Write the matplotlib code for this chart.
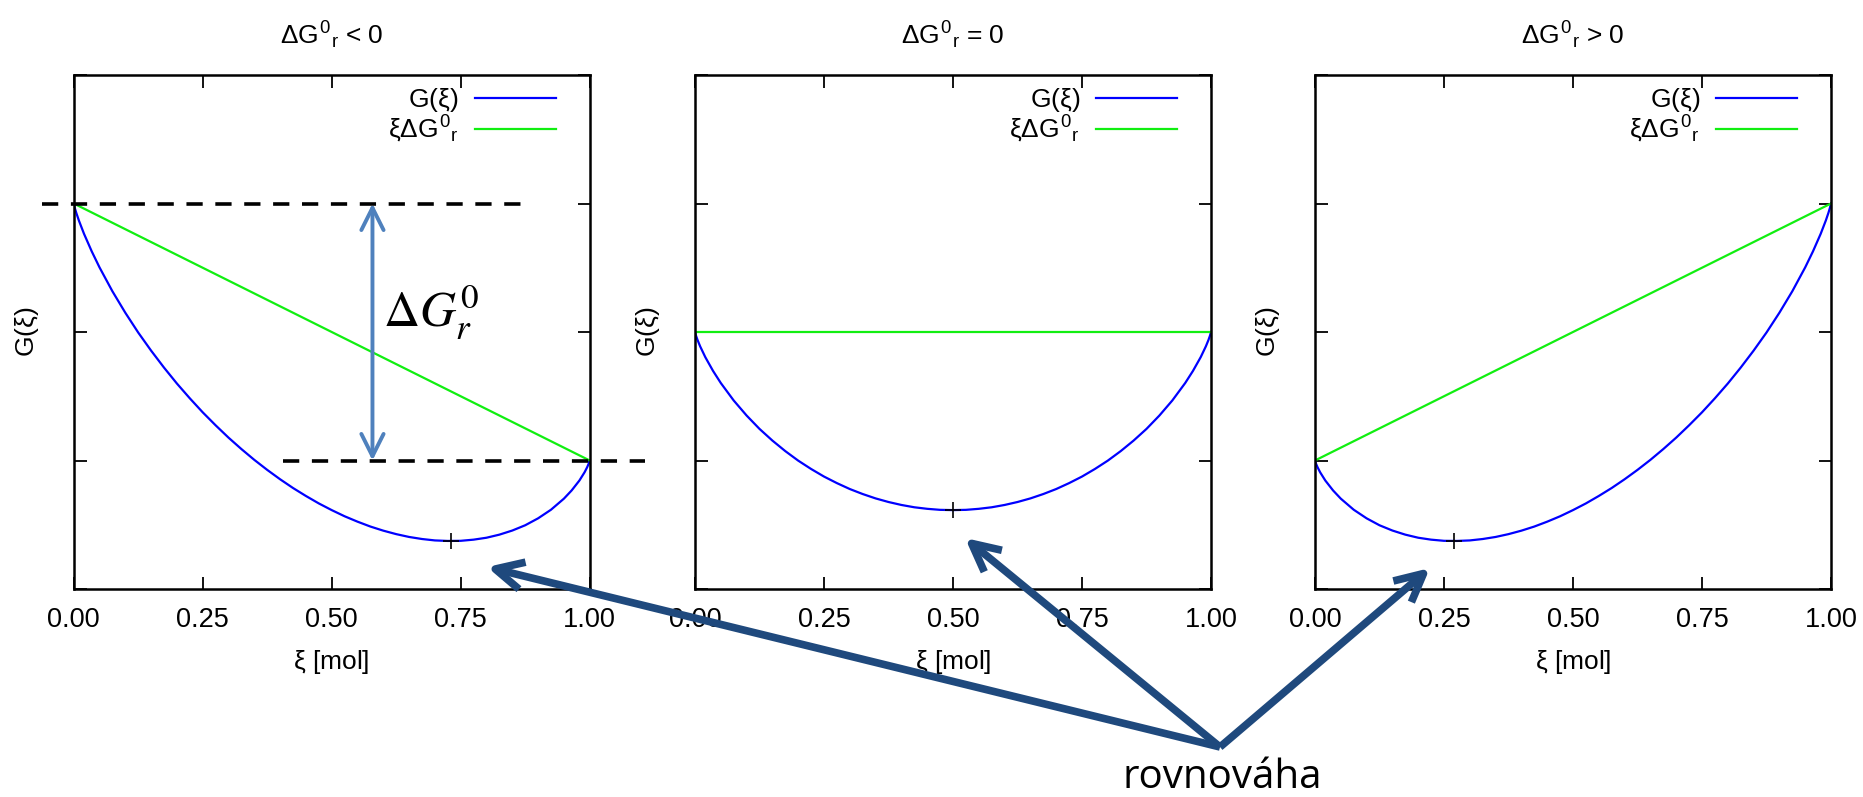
import matplotlib
matplotlib.use("Agg")
import matplotlib.pyplot as plt
from matplotlib.patches import FancyArrowPatch

plt.rcParams['font.family'] = ['Liberation Sans', 'DejaVu Sans']
plt.rcParams['mathtext.fontset'] = 'custom'
plt.rcParams['mathtext.rm'] = 'Liberation Sans'
plt.rcParams['mathtext.it'] = 'Liberation Sans'
plt.rcParams['mathtext.bf'] = 'Liberation Sans:bold'

### data (G in tick units, 0..4)
xi = [0, .002, .005, .01, .02, .035, .05, .075, .1, .125, .15, .175, .2, .225, .25, .275,
      .3, .325, .35, .375, .4, .425, .45, .475, .5, .525, .55, .575, .6, .625, .65, .675,
      .7, .725, .75, .775, .8, .825, .85, .875, .9, .925, .95, .965, .98, .99, .995, .998, 1]

g_neg = [3.000, 2.967, 2.927, 2.868, 2.764, 2.627, 2.503, 2.317, 2.150, 1.996, 1.855, 1.723,
         1.599, 1.484, 1.375, 1.274, 1.178, 1.089, 1.005, 0.927, 0.854, 0.786, 0.724, 0.666,
         0.614, 0.566, 0.524, 0.486, 0.454, 0.427, 0.405, 0.389, 0.378, 0.374, 0.375, 0.384,
         0.399, 0.423, 0.455, 0.496, 0.550, 0.617, 0.703, 0.767, 0.844, 0.908, 0.947, 0.975,
         1.000]
g_zero = [2.000, 1.971, 1.937, 1.888, 1.804, 1.697, 1.603, 1.467, 1.350, 1.246, 1.155, 1.073,
          0.999, 0.934, 0.875, 0.824, 0.778, 0.739, 0.705, 0.677, 0.654, 0.636, 0.624, 0.616,
          0.614, 0.616, 0.624, 0.636, 0.654, 0.677, 0.705, 0.739, 0.778, 0.824, 0.875, 0.934,
          0.999, 1.073, 1.155, 1.246, 1.350, 1.467, 1.603, 1.697, 1.804, 1.888, 1.937, 1.971,
          2.000]
g_pos = [1.000, 0.975, 0.947, 0.908, 0.844, 0.767, 0.703, 0.617, 0.550, 0.496, 0.455, 0.423,
         0.399, 0.384, 0.375, 0.374, 0.378, 0.389, 0.405, 0.427, 0.454, 0.486, 0.524, 0.566,
         0.614, 0.666, 0.724, 0.786, 0.854, 0.927, 1.005, 1.089, 1.178, 1.274, 1.375, 1.484,
         1.599, 1.723, 1.855, 1.996, 2.150, 2.317, 2.503, 2.627, 2.764, 2.868, 2.927, 2.967,
         3.000]

# xi*dG line: value at xi=0 and xi=1
lin_neg = [3, 1]
lin_zero = [2, 2]
lin_pos = [1, 3]

# equilibrium points (+)
eq_x = [0.731, 0.5, 0.269]
eq_y = [0.373, 0.614, 0.373]

titles = [r'$\Delta G^{0}{}_{r}$ < 0', r'$\Delta G^{0}{}_{r}$ = 0', r'$\Delta G^{0}{}_{r}$ > 0']
xtick_vals = [0, 0.25, 0.5, 0.75, 1.0]
xtick_labels = ['0.00', '0.25', '0.50', '0.75', '1.00']

blue = '#0000ff'
green = '#11ee11'

fig = plt.figure(figsize=(18.63, 7.97), dpi=100)
W, H = 1863.0, 797.0
lefts = [73.7, 695, 1315]
aw, ah = 516, 514
bottom = 797 - 589

curves = [g_neg, g_zero, g_pos]
lines = [lin_neg, lin_zero, lin_pos]
axes = []
for i in range(3):
    ax = fig.add_axes([lefts[i] / W, bottom / H, aw / W, ah / H])
    axes.append(ax)
    ax.plot(xi, curves[i], color=blue, lw=1.6, label=r'G($\xi$)')
    ax.plot([0, 1], lines[i], color=green, lw=1.6, label=r'$\xi\Delta G^{0}{}_{r}$')
    ax.plot(eq_x[i], eq_y[i], marker='+', color='black', ms=11, mew=1.2)
    ax.set_xlim(0, 1)
    ax.set_ylim(0, 4)
    ax.set_xticks(xtick_vals)
    ax.set_xticklabels(xtick_labels)
    ax.set_yticks([0, 1, 2, 3, 4])
    ax.set_yticklabels([])
    ax.tick_params(direction='in', length=9, width=1.3, top=True, right=True,
                   labelsize=19.5, pad=13)
    for s in ax.spines.values():
        s.set_linewidth(1.8)
    ax.set_title(titles[i], fontsize=19, pad=22)
    ax.set_xlabel(r'$\xi$ [mol]', fontsize=19, labelpad=11)
    ax.set_ylabel(r'G($\xi$)', fontsize=19, va='center')
    ax.yaxis.set_label_coords(-(lefts[0] - 27) / aw, 0.5)
    ax.legend(loc='upper right', bbox_to_anchor=(1 - 34 / aw, 1 - 11 / ah), frameon=False,
              fontsize=19, markerfirst=False, handlelength=3.07, handletextpad=0.6,
              borderpad=0, borderaxespad=0, labelspacing=0.0)

### annotations in first panel
ax = axes[0]
ax.plot([-0.062, 0.877], [3, 3], color='black', lw=2.6, dashes=(4.5, 3.5), clip_on=False)
ax.plot([0.406, 1.107], [1, 1], color='black', lw=2.6, dashes=(4.5, 3.5), clip_on=False)
ax.annotate('', xy=(0.579, 3), xytext=(0.579, 1),
            arrowprops=dict(arrowstyle='<->', color='#4F81BD', lw=2.8,
                            mutation_scale=40, shrinkA=0, shrinkB=0))
ax.text(0.60, 2.04, r'$\Delta G_r^0$', fontsize=36, math_fontfamily='stix',
        ha='left', va='baseline')

### arrows pointing to equilibrium
apex = (1220, 797 - 747)
tips = [(487, 797 - 567), (965, 797 - 538), (1430, 797 - 568)]
for t in tips:
    arr = FancyArrowPatch((apex[0] / W, apex[1] / H), (t[0] / W, t[1] / H),
                          transform=fig.transFigure, arrowstyle='->', color='#1F497D',
                          lw=5.5, mutation_scale=50, shrinkA=0, shrinkB=0,
                          capstyle='butt', joinstyle='round')
    fig.add_artist(arr)

fig.text(1222 / W, 9 / H, 'rovnováha', fontsize=29, family=['Open Sans', 'DejaVu Sans'],
         ha='center', va='baseline')

fig.savefig('out.png', dpi=100)
